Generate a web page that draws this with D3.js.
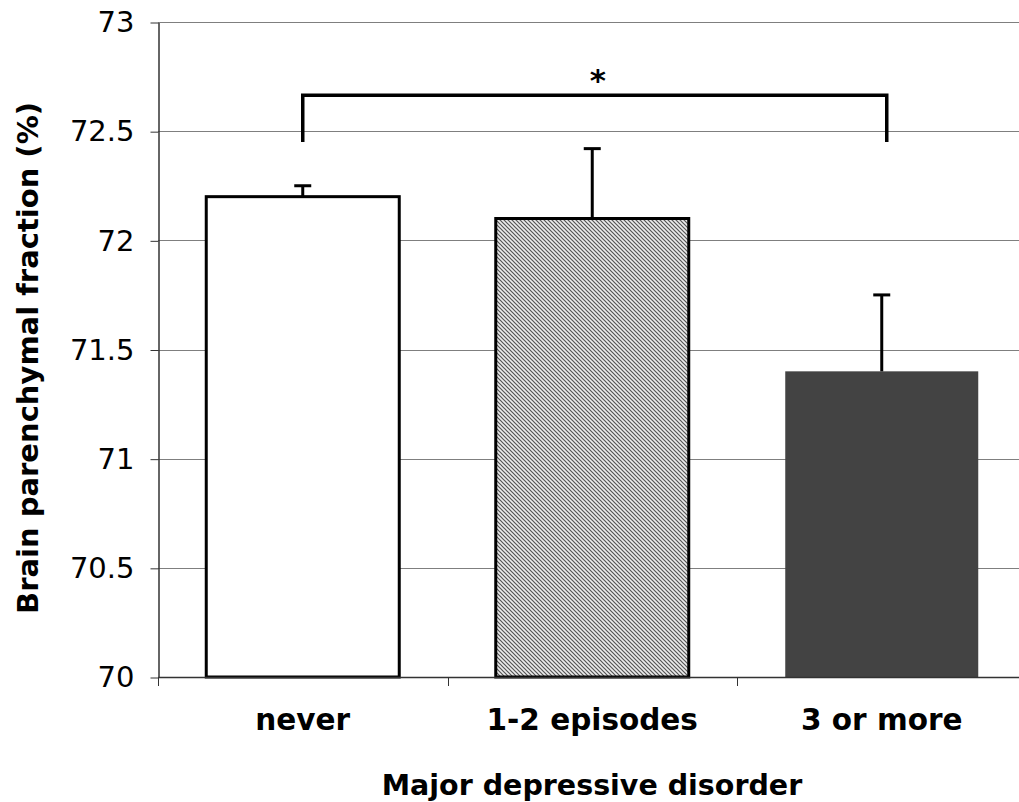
<!DOCTYPE html>
<html>
<head>
<meta charset="utf-8">
<script src="https://cdn.jsdelivr.net/npm/d3@7"></script>
<style>
  html, body { margin: 0; padding: 0; background: #fff; }
  svg { display: block; }
  text { font-family: "DejaVu Sans", Verdana, sans-serif; fill: #000; }
</style>
</head>
<body>
<svg id="chart" width="1019" height="802"></svg>
<script>
// Brain parenchymal fraction by history of major depressive disorder
const categories = ["never", "1-2 episodes", "3 or more"];
const means = [72.2, 72.1, 71.4];
const errUpper = [72.25, 72.42, 71.75];
const yTicks = [70, 70.5, 71, 71.5, 72, 72.5, 73];
const yTickLabels = ["70", "70.5", "71", "71.5", "72", "72.5", "73"];
const yDomain = [70, 73];
// significance bracket between first and last group
const bracketTop = 72.665;
const bracketFoot = 72.45;
const bracketLabel = "*";
const xTitle = "Major depressive disorder";
const yTitle = "Brain parenchymal fraction (%)";

(function () {
const svg = d3.select("#chart");
const plotLeft = 158, plotTop = 22, plotBottom = 677, plotRight = 1026.5;

const y = d3.scaleLinear().domain(yDomain).range([plotBottom, plotTop]);
const x = d3.scaleBand().domain(categories).range([plotLeft, plotRight])
  .paddingInner(1 / 3).paddingOuter(1 / 6);

// diagonal hatch for the middle group
const defs = svg.append("defs");
const pat = defs.append("pattern")
  .attr("id", "hatch").attr("patternUnits", "userSpaceOnUse")
  .attr("width", 4).attr("height", 4);
pat.append("rect").attr("width", 4).attr("height", 4).attr("fill", "#ececec");
pat.append("path").attr("d", "M-1,-1 L5,5 M-1,3 L1,5 M3,-1 L5,1")
  .attr("stroke", "#555").attr("stroke-width", 1.2);

// horizontal gridlines
svg.append("g").selectAll("line")
  .data(yTicks.filter(d => d !== yDomain[0]))
  .join("line")
  .attr("x1", plotLeft).attr("x2", 1019)
  .attr("y1", d => Math.round(y(d)) + 0.5).attr("y2", d => Math.round(y(d)) + 0.5)
  .attr("stroke", "#7f7f7f").attr("stroke-width", 1.2);

// y axis
const yAxis = d3.axisLeft(y).tickValues(yTicks)
  .tickFormat((d, i) => yTickLabels[i]).tickSize(8).tickSizeOuter(0).tickPadding(16);
const gy = svg.append("g").attr("transform", `translate(${plotLeft + 0.5},0.5)`).call(yAxis);
gy.select(".domain").attr("stroke", "#333").attr("stroke-width", 1.5);
gy.selectAll(".tick line").attr("stroke", "#333").attr("stroke-width", 1);
gy.selectAll(".tick text")
  .style("font-family", "'DejaVu Sans', Verdana, sans-serif")
  .style("font-size", "29px").attr("fill", "#000");

// bars
const fills = ["#ffffff", "url(#hatch)", "#434343"];
const strokes = ["#000", "#000", "none"];
svg.append("g").selectAll("rect")
  .data(categories)
  .join("rect")
  .attr("x", d => x(d))
  .attr("y", (d, i) => y(means[i]))
  .attr("width", x.bandwidth())
  .attr("height", (d, i) => y(yDomain[0]) - y(means[i]))
  .attr("fill", (d, i) => fills[i])
  .attr("stroke", (d, i) => strokes[i])
  .attr("stroke-width", 3);

// x axis
const xAxisLine = svg.append("g");
xAxisLine.append("line")
  .attr("x1", plotLeft).attr("x2", 1019)
  .attr("y1", plotBottom + 0.5).attr("y2", plotBottom + 0.5)
  .attr("stroke", "#333").attr("stroke-width", 1.5);
const boundaries = categories.map(c => x(c) - x.step() * x.paddingInner() / 2);
boundaries[0] = plotLeft;
xAxisLine.selectAll("line.tk")
  .data(boundaries)
  .join("line").attr("class", "tk")
  .attr("x1", d => Math.round(d) + 0.5).attr("x2", d => Math.round(d) + 0.5)
  .attr("y1", plotBottom).attr("y2", plotBottom + 9)
  .attr("stroke", "#333").attr("stroke-width", 1);

svg.append("g").selectAll("text")
  .data(categories)
  .join("text")
  .attr("x", d => x(d) + x.bandwidth() / 2)
  .attr("y", 730)
  .attr("text-anchor", "middle")
  .style("font-size", "29.5px").style("font-weight", "bold")
  .text(d => d);

// error bars (upper)
const eb = svg.append("g").attr("stroke", "#000").attr("stroke-width", 3);
categories.forEach((c, i) => {
  const cx = x(c) + x.bandwidth() / 2;
  eb.append("line").attr("x1", cx).attr("x2", cx)
    .attr("y1", y(means[i])).attr("y2", y(errUpper[i]));
  eb.append("line").attr("x1", cx - 8.5).attr("x2", cx + 8.5)
    .attr("y1", y(errUpper[i])).attr("y2", y(errUpper[i]));
});

// significance bracket
const bx1 = x(categories[0]) + x.bandwidth() / 2;
const bx2 = x(categories[2]) + x.bandwidth() / 2 + 5;
svg.append("path")
  .attr("d", `M${bx1},${y(bracketFoot)} V${y(bracketTop)} H${bx2} V${y(bracketFoot)}`)
  .attr("fill", "none").attr("stroke", "#000").attr("stroke-width", 3.5);
svg.append("text")
  .attr("x", (bx1 + bx2) / 2 + 3).attr("y", 91)
  .attr("text-anchor", "middle")
  .style("font-size", "31px").style("font-weight", "bold")
  .text(bracketLabel);

// axis titles
svg.append("text")
  .attr("x", 592).attr("y", 795)
  .attr("text-anchor", "middle")
  .style("font-size", "28.5px").style("font-weight", "bold")
  .text(xTitle);
svg.append("text")
  .attr("transform", "translate(38,358) rotate(-90)")
  .attr("text-anchor", "middle")
  .style("font-size", "29px").style("font-weight", "bold")
  .text(yTitle);
})();
</script>
</body>
</html>
